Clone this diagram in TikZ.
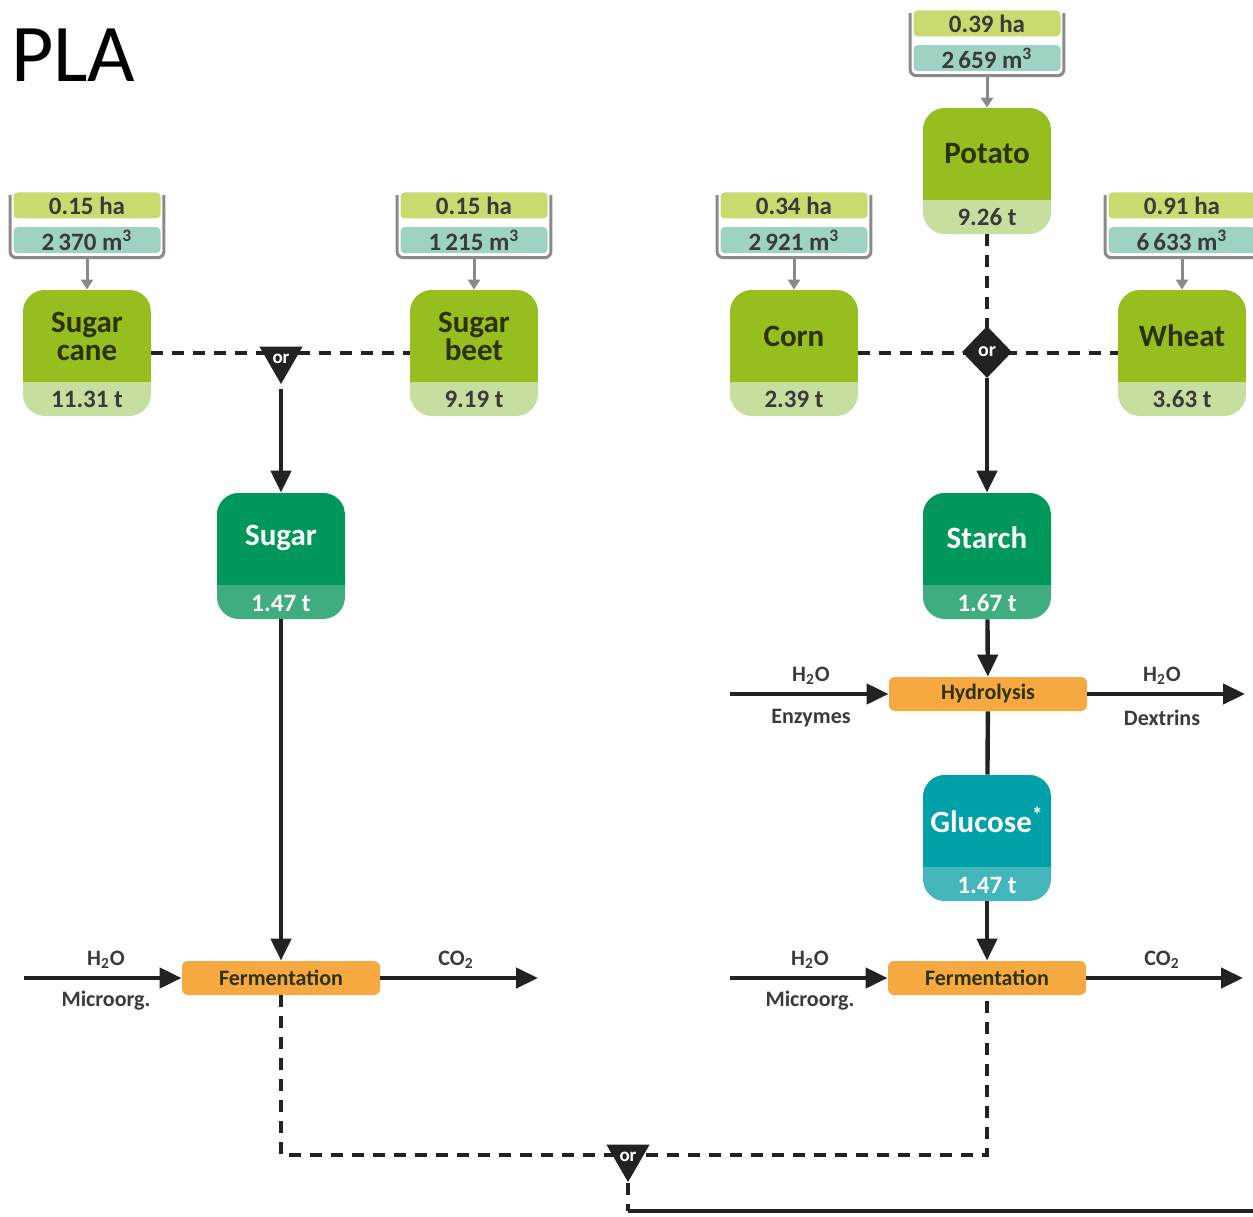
\documentclass[tikz,border=0pt]{standalone}
\usepackage{fontspec}
\setmainfont{Carlito}
\usetikzlibrary{arrows.meta}
\usetikzlibrary{positioning}
\usetikzlibrary{shapes.geometric}
\definecolor{cropgreen}{HTML}{96BE1E}
\definecolor{cropband}{HTML}{C6DE9E}
\definecolor{hacol}{HTML}{C9DB6F}
\definecolor{watcol}{HTML}{9DD2C4}
\definecolor{midgreen}{HTML}{00985A}
\definecolor{midband}{HTML}{3FAD80}
\definecolor{gluteal}{HTML}{00A0A8}
\definecolor{gluband}{HTML}{42B6BB}
\definecolor{stepcol}{HTML}{F5A940}
\definecolor{darktext}{HTML}{2C3206}
\definecolor{greytext}{HTML}{3A3A3A}
\definecolor{bracketgrey}{HTML}{8A8A8A}
\definecolor{flowblack}{HTML}{222222}
\tikzset{box/.style 2 args = {rounded corners=11pt, minimum width=64pt, minimum height=63pt,
                              inner sep=0pt, fill=#2,
                              path picture={\fill[#1, sharp corners] (path picture bounding box.north west)
                                rectangle ([yshift=17pt]path picture bounding box.south east);}}}
\tikzset{bar/.style = {fill=#1, rounded corners=2pt, minimum width=73.5pt, minimum height=13pt,
                       inner sep=0pt, text=greytext, font=\bfseries\fontsize{12.5}{13}\selectfont}}
\tikzset{boxlbl/.style = {align=center, font=\bfseries\fontsize{15.5}{14}\selectfont}}
\tikzset{yieldlbl/.style = {font=\bfseries\fontsize{12.5}{13}\selectfont}}
\tikzset{stepbox/.style = {fill=stepcol, rounded corners=3pt, minimum width=99pt, minimum height=17pt,
                           inner sep=0pt, text=darktext, font=\bfseries\fontsize{11}{12}\selectfont}}
\tikzset{sidelbl/.style = {text=greytext, font=\bfseries\fontsize{11}{12}\selectfont}}
\tikzset{ortri/.style = {regular polygon, regular polygon sides=3, shape border rotate=180,
                         fill=flowblack, minimum size=25pt, inner sep=0pt, text=white,
                         font=\bfseries\fontsize{9.5}{9}\selectfont}}
\tikzset{ordia/.style = {diamond, fill=flowblack, minimum width=25pt, minimum height=26pt,
                         inner sep=0pt, text=white, font=\bfseries\fontsize{10}{9}\selectfont}}
\tikzset{bracket/.style = {draw=bracketgrey, line width=1.5pt, rounded corners=3pt}}
\tikzset{feed/.style = {draw=bracketgrey, line width=1.5pt, -{Triangle[length=5pt, width=6pt]}}}
\tikzset{flow/.style = {draw=flowblack, line width=2.2pt, -{Triangle[length=11pt, width=10pt]}}}
\tikzset{link/.style = {draw=flowblack, line width=2.2pt}}
\tikzset{orline/.style = {draw=flowblack, line width=2.2pt, dash pattern=on 6pt off 4.5pt}}

\begin{document}
\begin{tikzpicture}[x=0.5pt, y=-0.5pt]
  \useasboundingbox (0, 0) rectangle (1253, 1216);

  \node [anchor=base west, font=\fontsize{41}{41}\selectfont, text=black] (title) at (4, 81) {PLA};

  % crops with land and water use
  \foreach \nm/\cx/\cy/\txt/\ha/\wat/\yld in {sc/87/353/{Sugar\\cane}/0.15/2\,370/11.31,
                                             sb/474/353/{Sugar\\beet}/0.15/1\,215/9.19,
                                             co/794/353/Corn/0.34/2\,921/2.39,
                                             po/987/171/Potato/0.39/2\,659/9.26,
                                             wh/1182/353/Wheat/0.91/6\,633/3.63} {
    \node [box={cropgreen}{cropband}] (\nm) at (\cx, \cy) {};
    \node [boxlbl, text=darktext] (\nm-lbl) at ([yshift=8.5pt]\nm.center) {\txt};
    \node [yieldlbl, text=greytext] (\nm-t) at ([yshift=-23pt]\nm.center) {\yld~t};
    \node [bar=watcol, above=18pt of \nm] (\nm-m3) {\wat~m\textsuperscript{3}};
    \node [bar=hacol, above=4pt of \nm-m3] (\nm-ha) {\ha~ha};
    \coordinate (\nm-b) at ([yshift=-2pt]\nm-m3.south);
    \draw [bracket] ([xshift=-1.5pt, yshift=-1.5pt]\nm-ha.north west) |- (\nm-b)
                    -| ([xshift=1.5pt, yshift=-1.5pt]\nm-ha.north east);
    \draw [feed] (\nm-b) -- (\nm);
  }

  % products
  \node [box={midgreen}{midband}] (sug) at (281, 556) {};
  \node [boxlbl, text=white] (sug-lbl) at ([yshift=9pt]sug.center) {Sugar};
  \node [yieldlbl, text=white] (sug-t) at ([yshift=-23.5pt]sug.center) {1.47~t};

  \node [box={midgreen}{midband}] (sta) at (987, 556) {};
  \node [boxlbl, text=white] (sta-lbl) at ([yshift=9pt]sta.center) {Starch};
  \node [yieldlbl, text=white] (sta-t) at ([yshift=-23.5pt]sta.center) {1.67~t};

  \node [box={gluteal}{gluband}] (glu) at (987, 838) {};
  \node [boxlbl, text=white] (glu-lbl) at ([yshift=9pt]glu.center) {Glucose\textsuperscript{*}};
  \node [yieldlbl, text=white] (glu-t) at ([yshift=-23.5pt]glu.center) {1.47~t};

  % process steps
  \node [stepbox] (hyd) at (988, 694) {Hydrolysis};
  \node [stepbox] (ferL) at (281, 978) {Fermentation};
  \node [stepbox] (ferR) at (987, 978) {Fermentation};

  % alternatives
  \draw [orline] (sc) -- (sb);
  \draw [orline] (co) -- (wh);
  \draw [orline] (po) -- (987, 352);
  \coordinate (mrg) at (628, 1155);
  \draw [orline] (ferL) |- (mrg) -| (ferR);

  \node [ortri] (or1) at (281, 359) {or};
  \node [ordia] (or2) at (987, 352) {or};
  \node [ortri] (or3) at (628, 1157) {or};

  \coordinate (outc) at (628, 1211);
  \coordinate (outend) at (1270, 1211);
  \draw [orline] (or3.corner 1) -- (outc);
  \draw [link] (outc) -- (outend);

  % main flow
  \draw [flow, shorten <=2pt] (or1.corner 1) -- (sug);
  \draw [flow] (or2) -- (sta);
  \draw [flow] (sug) -- (ferL);
  \draw [flow] (sta) -- (hyd);
  \draw [link] (hyd) -- (glu);
  \draw [flow] (glu) -- (ferR);

  % inputs and outputs
  \coordinate (hyd-in) at (730, 694);
  \coordinate (hyd-out) at (1245, 694);
  \draw [flow] (hyd-in) -- (hyd);
  \draw [flow] (hyd) -- (hyd-out);
  \node [sidelbl] (hyd-w1) at (811, 676) {H\textsubscript{2}O};
  \node [sidelbl] (hyd-enz) at (811, 718) {Enzymes};
  \node [sidelbl] (hyd-w2) at (1162, 676) {H\textsubscript{2}O};
  \node [sidelbl] (hyd-dex) at (1162, 718) {Dextrins};

  \coordinate (ferL-in) at (24, 978);
  \coordinate (ferL-out) at (538, 978);
  \draw [flow] (ferL-in) -- (ferL);
  \draw [flow] (ferL) -- (ferL-out);
  \node [sidelbl] (ferL-w) at (106, 960) {H\textsubscript{2}O};
  \node [sidelbl] (ferL-mo) at (106, 1001) {Microorg.};
  \node [sidelbl] (ferL-co) at (456, 960) {CO\textsubscript{2}};

  \coordinate (ferR-in) at (730, 978);
  \coordinate (ferR-out) at (1243, 978);
  \draw [flow] (ferR-in) -- (ferR);
  \draw [flow] (ferR) -- (ferR-out);
  \node [sidelbl] (ferR-w) at (810, 960) {H\textsubscript{2}O};
  \node [sidelbl] (ferR-mo) at (810, 1001) {Microorg.};
  \node [sidelbl] (ferR-co) at (1162, 960) {CO\textsubscript{2}};
\end{tikzpicture}
\end{document}
